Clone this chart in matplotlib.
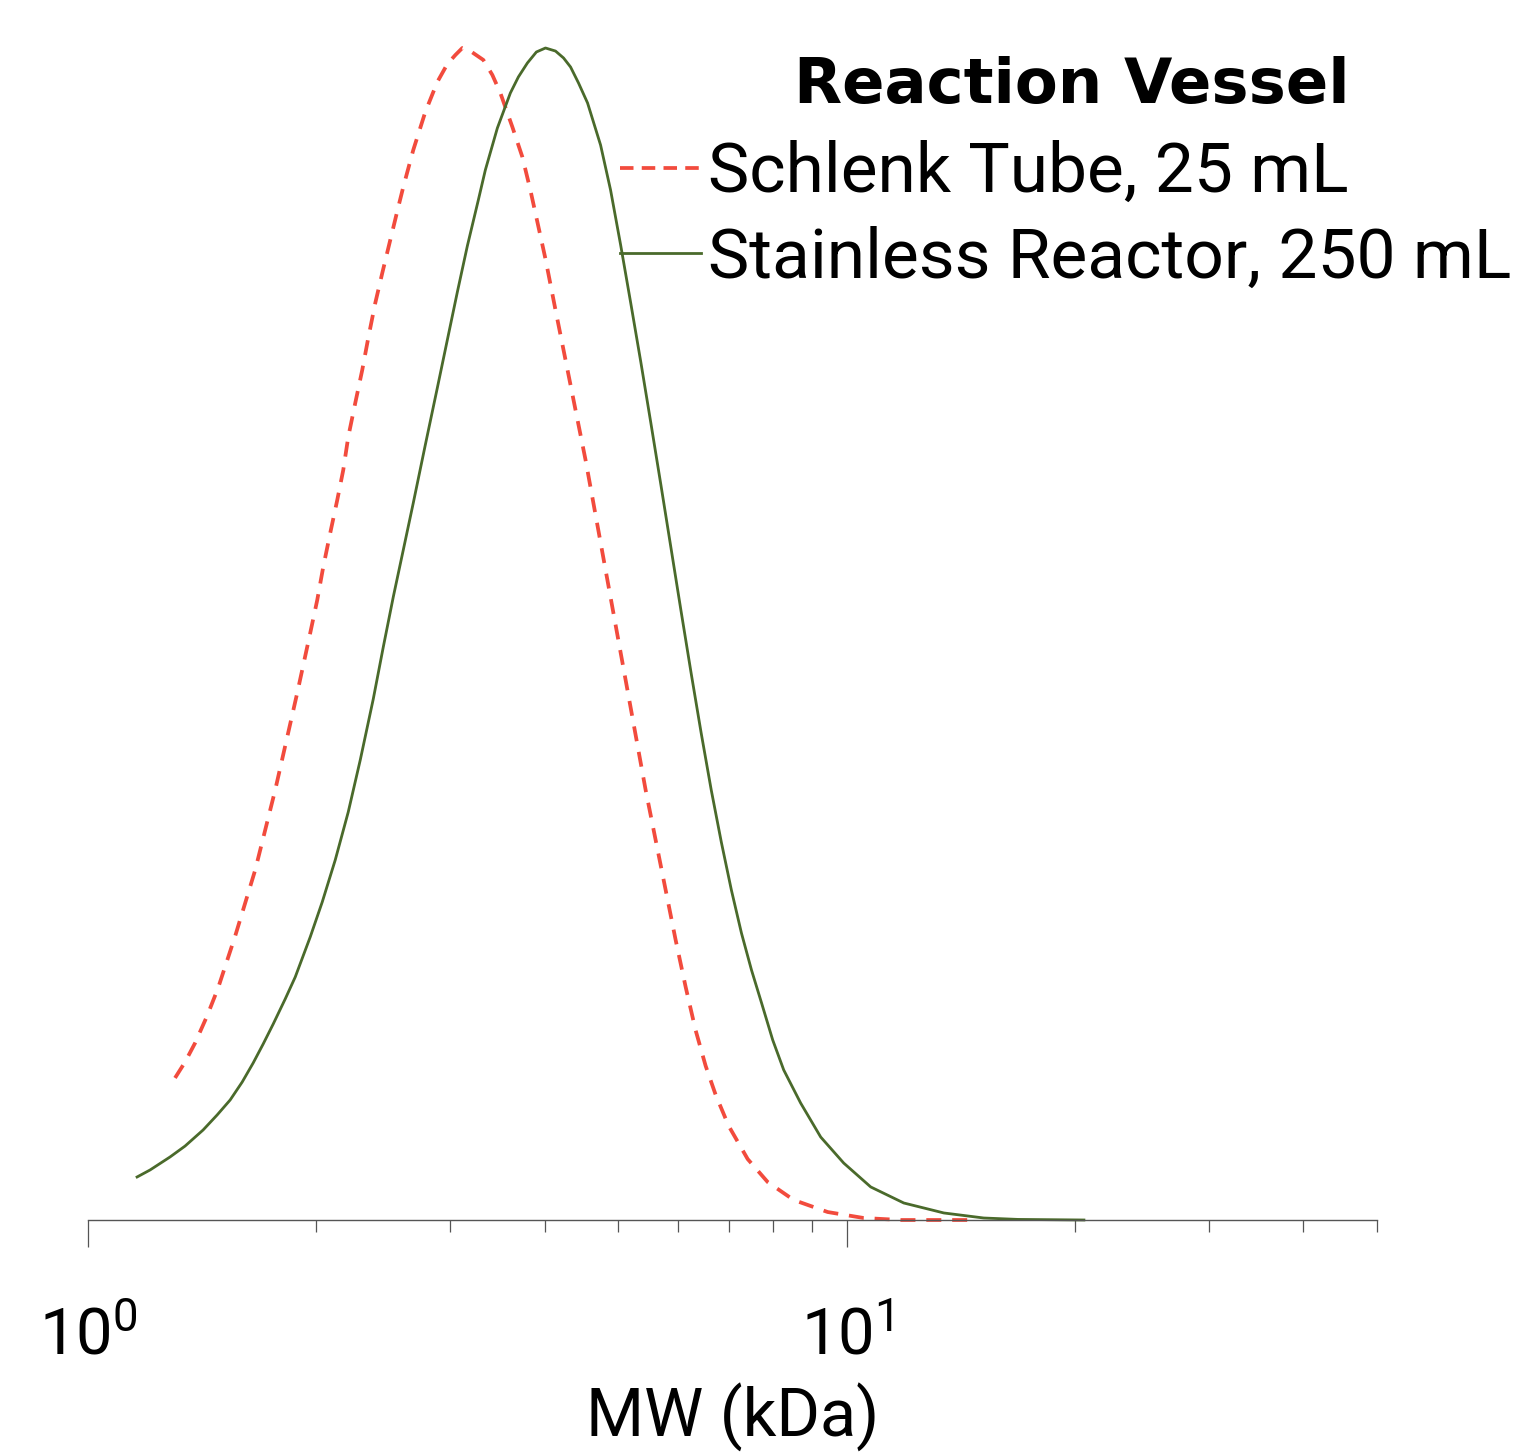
import matplotlib
matplotlib.use('Agg')
import matplotlib.pyplot as plt
from matplotlib.ticker import NullFormatter, FixedLocator
from matplotlib.lines import Line2D

# Molecular weight distributions (normalised to peak = 100), MW in kDa
schlenk_mw = [1.3023, 1.3426, 1.3840, 1.4354, 1.4842, 1.5631, 1.6610, 1.7650, 1.8870, 1.9630,
              2.0052, 2.0420, 2.0858, 2.1307, 2.1699, 2.2030, 2.2504, 2.2987, 2.3410, 2.3913,
              2.4427, 2.5027, 2.5643, 2.6035, 2.6837, 2.7834, 2.8867, 2.9759, 3.0492, 3.1146,
              3.1912, 3.3195, 3.4116, 3.4956, 3.6253, 3.7370, 3.8289, 3.9113, 4.0086, 4.1322,
              4.2601, 4.3914, 4.5269, 4.6668, 4.8107, 4.9591, 5.1121, 5.2700, 5.4325, 5.5999,
              5.7726, 5.9505, 6.1341, 6.3210, 6.5183, 6.7197, 6.9903, 7.4043, 7.8674, 8.5127,
              9.4397, 10.530, 11.785, 14.439]
schlenk_w = [12.12, 13.48, 15.10, 17.41, 19.80, 24.23, 29.86, 36.69, 44.97, 50.09,
             52.90, 55.72, 58.62, 61.43, 63.99, 66.81, 69.71, 72.53, 75.26, 78.24,
             80.80, 83.62, 86.43, 88.14, 91.30, 94.54, 97.10, 98.63, 99.40, 100.0,
             99.74, 98.98, 97.70, 96.16, 93.26, 90.70, 87.88, 85.15, 82.00, 77.65,
             73.38, 69.11, 64.85, 60.15, 55.46, 50.77, 46.08, 41.38, 36.69, 32.42,
             28.16, 23.89, 19.88, 16.21, 13.14, 10.67, 8.02, 5.20, 3.24, 1.71,
             0.68, 0.17, 0.0, 0.0]

reactor_mw = [1.1606, 1.2074, 1.2829, 1.3426, 1.4181, 1.4797, 1.5394, 1.5967, 1.6509, 1.7018,
              1.7543, 1.8195, 1.8756, 1.9630, 2.0358, 2.1178, 2.2030, 2.2848, 2.3768, 2.4502,
              2.5256, 2.6035, 2.6837, 2.7834, 2.8867, 2.9759, 3.0678, 3.1623, 3.2695, 3.3398,
              3.4639, 3.6033, 3.6921, 3.7943, 3.8994, 4.0086, 4.1322, 4.2343, 4.3254, 4.4316,
              4.5545, 4.7381, 4.8841, 5.0357, 5.1922, 5.3533, 5.5193, 5.6904, 5.8668, 6.0488,
              6.2364, 6.4298, 6.6292, 6.8348, 7.0467, 7.2652, 7.4905, 7.7228, 7.9888, 8.2604,
              8.6954, 9.2409, 9.9093, 10.756, 11.893, 13.429, 15.159, 16.813, 20.544]
reactor_w = [3.67, 4.27, 5.38, 6.31, 7.68, 8.96, 10.24, 11.77, 13.40, 15.02,
             16.72, 18.86, 20.73, 24.15, 27.13, 30.72, 34.81, 39.25, 44.45, 48.89,
             53.16, 57.17, 61.18, 66.13, 70.99, 75.09, 79.18, 83.11, 87.03, 89.59,
             93.17, 96.16, 97.53, 98.72, 99.66, 100.0, 99.74, 99.15, 98.38, 97.01,
             95.31, 91.72, 87.88, 83.19, 78.24, 73.21, 68.00, 62.71, 57.34, 51.96,
             46.67, 41.55, 36.69, 32.25, 28.16, 24.49, 21.33, 18.52, 15.36, 12.80,
             9.98, 7.08, 4.86, 2.82, 1.45, 0.60, 0.17, 0.05, 0.0]

labels = ['Schlenk Tube, 25 mL', 'Stainless Reactor, 250 mL']
legend_title = 'Reaction Vessel'
colors = ['#f24b3d', '#4a6a2b']

plt.rcParams['font.family'] = ['Roboto', 'DejaVu Sans']
plt.rcParams['mathtext.fontset'] = 'custom'
plt.rcParams['mathtext.rm'] = 'Roboto'
plt.rcParams['mathtext.it'] = 'Roboto'

W, H = 1528, 1453
fig = plt.figure(figsize=(W / 100, H / 100), dpi=100)
ax = fig.add_axes([88 / W, 233 / H, (1377 - 88) / W, (1220 - 48) / H])

dash = (0, (4.0, 2.9))
ax.plot(schlenk_mw, schlenk_w, color=colors[0], lw=2.7, ls=dash, clip_on=False,
        solid_joinstyle='round')
ax.plot(reactor_mw, reactor_w, color=colors[1], lw=2.0, clip_on=False,
        solid_joinstyle='round')

ax.set_xscale('log')
ax.set_xlim(1, 50)
ax.set_ylim(0, 100)

for s in ['left', 'right', 'top']:
    ax.spines[s].set_visible(False)
ax.spines['bottom'].set_color('#555555')
ax.spines['bottom'].set_linewidth(1.0)
ax.set_yticks([])

ax.xaxis.set_major_locator(FixedLocator([1, 10]))
ax.xaxis.set_minor_locator(FixedLocator([2, 3, 4, 5, 6, 7, 8, 9, 20, 30, 40, 50]))
ax.xaxis.set_minor_formatter(NullFormatter())
ax.set_xticklabels([r'$10^{0}$', r'$10^{1}$'])
ax.tick_params(axis='x', which='major', length=19.5, width=0.9, color='#555555',
               labelsize=47, pad=42)
ax.tick_params(axis='x', which='minor', length=8.6, width=0.9, color='#555555')
ax.set_xlabel('MW (kDa)', fontsize=48, labelpad=11)

# legend entries, with the heading drawn separately above them
handles = [Line2D([], [], color=colors[0], lw=2.7, ls=(0, (3.6, 2.2))),
           Line2D([], [], color=colors[1], lw=2.0)]
leg = fig.legend(handles, labels, loc='upper left',
                 bbox_to_anchor=(620 / W, 1 - 140 / H), frameon=False,
                 fontsize=50, borderpad=0, borderaxespad=0,
                 handlelength=1.16, handletextpad=0.1, labelspacing=0.28)
fig.text(1072 / W, 1 - 103 / H, legend_title, ha='center', va='baseline',
         family='DejaVu Sans', weight='bold', fontsize=45)

fig.savefig('out.png', dpi=100)
